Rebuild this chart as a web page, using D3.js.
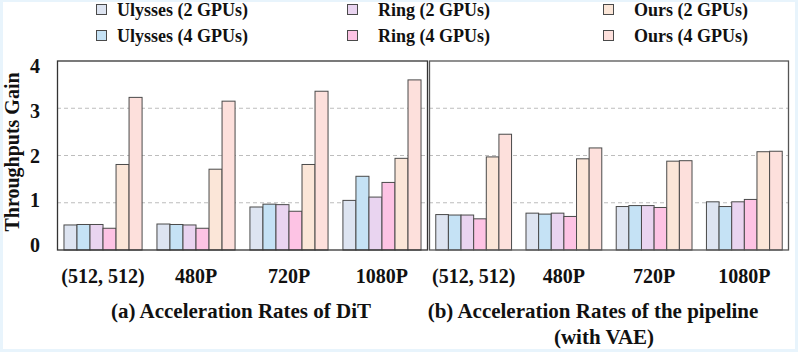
<!DOCTYPE html>
<html>
<head>
<meta charset="utf-8">
<script src="https://cdn.jsdelivr.net/npm/d3@7"></script>
<style>
    body { margin: 0; background: #e8f4fc; }
    svg { display: block; }
    text { font-family: "Liberation Serif", "Times New Roman", serif; font-weight: bold; fill: #111; }
</style>
</head>
<body>
<div id="chart"></div>
<script>
// categories and series
let resolutions = ['(512, 512)', '480P', '720P', '1080P']
let seriesNames = ['Ulysses (2 GPUs)', 'Ulysses (4 GPUs)', 'Ring (2 GPUs)', 'Ring (4 GPUs)', 'Ours (2 GPUs)', 'Ours (4 GPUs)']
let seriesColors = ['#dde4f1', '#c5e2f5', '#e9d4f0', '#fdc3e4', '#fbe6d8', '#fde0dc']

// (a) DiT, one row per series, one value per resolution
let ditValues = [
    [0.53, 0.55, 0.91, 1.05],
    [0.54, 0.54, 0.97, 1.56],
    [0.54, 0.53, 0.96, 1.12],
    [0.46, 0.46, 0.82, 1.43],
    [1.81, 1.71, 1.81, 1.94],
    [3.23, 3.15, 3.36, 3.60]
]

// (b) whole pipeline with VAE
let pipelineValues = [
    [0.75, 0.78, 0.92, 1.02],
    [0.74, 0.76, 0.94, 0.92],
    [0.74, 0.78, 0.94, 1.02],
    [0.66, 0.71, 0.90, 1.07],
    [1.97, 1.93, 1.88, 2.08],
    [2.45, 2.16, 1.89, 2.09]
]

let yTicks = [0, 1, 2, 3, 4]
let gridTicks = [1, 2, 3]

let W = 798, H = 352

let svg = d3.select('#chart')
    .append('svg')
    .attr('width', W)
    .attr('height', H)

// white page inside the light blue border
svg.append('rect')
    .attr('x', 3).attr('y', 2)
    .attr('width', W - 6).attr('height', H - 5)
    .attr('fill', '#fff')

let y = d3.scaleLinear().domain([0, 4]).range([250, 61])
// tick labels sit a little inside the frame at both ends
let yLabel = d3.scaleLinear().domain([0, 4]).range([245, 66])

function drawPanel(x0, x1, values, title, frameColor)
{
    let x = d3.scaleBand()
        .domain(resolutions)
        .range([x0, x1])
        .paddingInner(0.16)
        .paddingOuter(0.075)

    let xs = d3.scaleBand()
        .domain(d3.range(seriesNames.length))
        .range([0, x.bandwidth()])

    let g = svg.append('g')

    g.selectAll('line.grid')
        .data(gridTicks)
        .enter()
        .append('line')
        .attr('class', 'grid')
        .attr('x1', x0).attr('x2', x1)
        .attr('y1', d => y(d)).attr('y2', d => y(d))
        .attr('stroke', '#bdbdbd')
        .attr('stroke-width', 1)
        .attr('stroke-dasharray', '4,3')

    let rows = []
    values.forEach((row, s) => row.forEach((v, i) => rows.push({s: s, cat: resolutions[i], v: v})))

    g.selectAll('rect.bar')
        .data(rows)
        .enter()
        .append('rect')
        .attr('class', 'bar')
        .attr('x', d => x(d.cat) + xs(d.s))
        .attr('y', d => y(d.v))
        .attr('width', xs.bandwidth())
        .attr('height', d => y(0) - y(d.v))
        .attr('fill', d => seriesColors[d.s])
        .attr('stroke', '#4a4a4a')
        .attr('stroke-width', 1)

    g.append('rect')
        .attr('x', x0 + 0.5).attr('y', 61)
        .attr('width', x1 - x0 - 1).attr('height', y(0) - 61)
        .attr('fill', 'none')
        .attr('stroke', frameColor)
        .attr('stroke-width', 1.3)

    g.selectAll('text.cat')
        .data(resolutions)
        .enter()
        .append('text')
        .attr('class', 'cat')
        .attr('x', d => x(d) + x.bandwidth() / 2)
        .attr('y', 283)
        .attr('text-anchor', 'middle')
        .style('font-size', '20px')
        .text(d => d)

    title.forEach(t =>
    {
        g.append('text')
            .attr('x', t.x)
            .attr('y', t.y)
            .attr('text-anchor', 'middle')
            .style('font-size', '21px')
            .text(t.text)
    })
}

drawPanel(57, 428, ditValues, [{text: '(a) Acceleration Rates of DiT', x: 241, y: 318}], '#333')
drawPanel(429, 789, pipelineValues, [
    {text: '(b) Acceleration Rates of the pipeline', x: 593, y: 318},
    {text: '(with VAE)', x: 604, y: 344}
], '#555')

// y axis labels
svg.selectAll('text.ytick')
    .data(yTicks)
    .enter()
    .append('text')
    .attr('class', 'ytick')
    .attr('x', 35)
    .attr('y', d => yLabel(d))
    .attr('dy', '0.35em')
    .attr('text-anchor', 'middle')
    .style('font-size', '20px')
    .text(d => d)

svg.append('text')
    .attr('transform', 'translate(19,152) rotate(-90)')
    .attr('text-anchor', 'middle')
    .style('font-size', '20px')
    .text('Throughputs Gain')

// legend, three columns of two rows
let legendX = [96, 347, 603]
let legendY = [9.5, 35.5]

let legend = svg.selectAll('g.legend')
    .data(seriesNames)
    .enter()
    .append('g')
    .attr('class', 'legend')
    .attr('transform', (d, i) => 'translate(' + legendX[Math.floor(i / 2)] + ',' + legendY[i % 2] + ')')

legend.append('rect')
    .attr('x', 0.5).attr('y', -5)
    .attr('width', 10).attr('height', 10)
    .attr('fill', (d, i) => seriesColors[i])
    .attr('stroke', '#4a4a4a')
    .attr('stroke-width', 1)

legend.append('text')
    .attr('x', (d, i) => i < 2 ? 21 : 31)
    .attr('y', 0)
    .attr('dy', '0.36em')
    .style('font-size', '18px')
    .text(d => d)
</script>
</body>
</html>
